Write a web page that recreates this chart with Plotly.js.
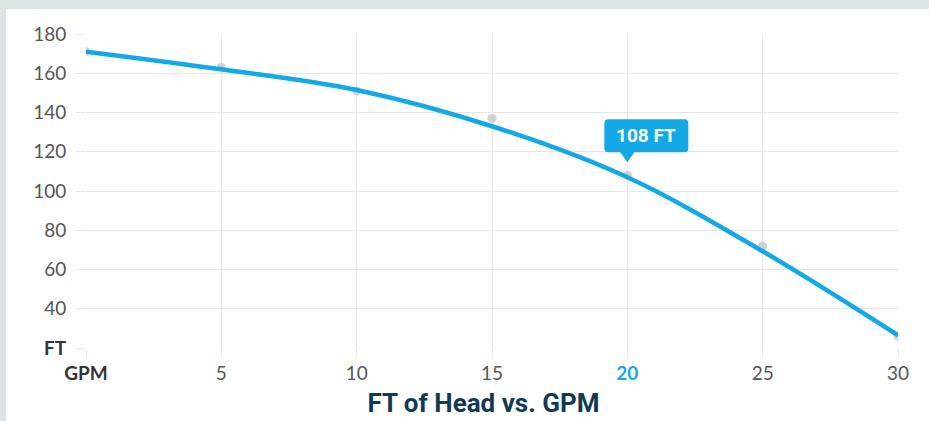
<!DOCTYPE html>
<html>
<head>
<meta charset="utf-8">
<script src="https://cdn.plot.ly/plotly-3.0.1.min.js"></script>
<style>
  html, body { margin: 0; padding: 0; background: #dee3e6; width: 929px; height: 421px; overflow: hidden; }
  #chart { position: absolute; left: 6px; top: 9px; width: 923px; height: 412px; background: #ffffff; }
</style>
</head>
<body>
<div id="chart"></div>
<script>
// Measured points (GPM -> FT of head)
const gpm = [0, 5, 10, 15, 20, 25, 30];
const ftHead = [171, 163, 151, 137, 108, 72, 26];

// Trend curve
const curveGpm = [0, 5, 10, 15, 20, 25, 30];
const curveFt = [171, 162, 151.5, 133, 107, 69.3, 26.5];

const xTickVals = [0, 5, 10, 15, 20, 25, 30];
const xTickText = ['<b style="color:#333">GPM</b>', '5', '10', '15', '<b style="color:#15a8e6">20</b>', '25', '30'];
const yTickVals = [20, 40, 60, 80, 100, 120, 140, 160, 180];
const yTickText = ['<b style="color:#333">FT</b>', '40', '60', '80', '100', '120', '140', '160', '180'];

const highlightIndex = 4;
const blue = '#12a9e6';
const grid = '#e6e6e6';

const traces = [
  {
    x: gpm, y: ftHead, type: 'scatter', mode: 'markers',
    marker: { size: 9, color: 'rgba(195,195,195,0.75)' },
    hoverinfo: 'skip'
  },
  {
    x: curveGpm, y: curveFt, type: 'scatter', mode: 'lines',
    line: { color: blue, width: 4.5, shape: 'spline', smoothing: 1 },
    hoverinfo: 'skip'
  }
];

const layout = {
  width: 923, height: 412,
  paper_bgcolor: '#ffffff', plot_bgcolor: '#ffffff',
  margin: { l: 80, r: 31, t: 25, b: 73 },
  showlegend: false,
  font: { family: 'Lato, "Open Sans", sans-serif', size: 19, color: '#555' },
  xaxis: {
    range: [0, 30], tickvals: xTickVals, ticktext: xTickText,
    showgrid: true, gridcolor: grid, gridwidth: 1, zeroline: false,
    showline: false, ticks: 'outside', ticklen: 8, tickcolor: grid, tickwidth: 1,
    tickfont: { size: 19, color: '#555' }, fixedrange: true
  },
  yaxis: {
    range: [20, 180], tickvals: yTickVals, ticktext: yTickText,
    showgrid: true, gridcolor: grid, gridwidth: 1, zeroline: false,
    showline: false, ticks: 'outside', ticklen: 9, tickcolor: grid, tickwidth: 1,
    ticklabelstandoff: 6,
    tickfont: { size: 19, color: '#555' }, fixedrange: true
  },
  title: {
    text: '<b>FT of Head vs. GPM</b>',
    font: { family: 'Roboto, "Liberation Sans", sans-serif', size: 26, color: '#0f3a55' },
    xref: 'container', yref: 'container', x: 0.5173, y: 0.045, xanchor: 'center', yanchor: 'middle'
  },
  shapes: [
    {
      type: 'path', xref: 'x', yref: 'y',
      xsizemode: 'pixel', ysizemode: 'pixel',
      xanchor: gpm[highlightIndex], yanchor: ftHead[highlightIndex],
      path: 'M -7,23 L 0,13 L 7,23 L 57,23 Q 61,23 61,27 L 61,52 Q 61,56 57,56 L -19,56 Q -23,56 -23,52 L -23,27 Q -23,23 -19,23 Z',
      fillcolor: blue, line: { width: 0 }
    }
  ],
  annotations: [
    {
      x: gpm[highlightIndex], y: ftHead[highlightIndex], xref: 'x', yref: 'y',
      text: '<b>' + ftHead[highlightIndex] + ' FT</b>', showarrow: false,
      xshift: 19, yshift: 39.5,
      font: { family: 'Roboto, "Liberation Sans", sans-serif', size: 19, color: '#ffffff' }
    }
  ]
};

Plotly.newPlot('chart', traces, layout, { displayModeBar: false, staticPlot: true });
</script>
</body>
</html>
